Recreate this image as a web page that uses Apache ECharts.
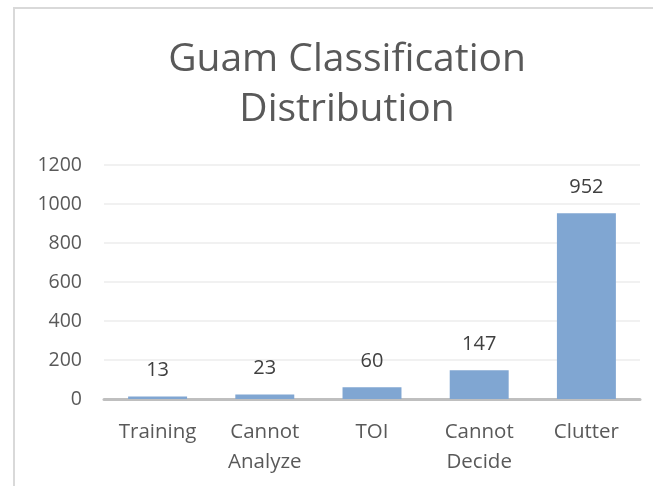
<!DOCTYPE html>
<html>
<head>
<meta charset="utf-8">
<script src="https://cdn.jsdelivr.net/npm/echarts@6/dist/echarts.min.js"></script>
<style>
  html, body { margin: 0; padding: 0; background: #fff; }
  #frame { position: absolute; left: 13px; top: 7px; width: 700px; height: 540px; border: 2px solid #d9d9d9; box-sizing: border-box; }
  #chart { position: absolute; left: 0; top: 0; width: 653px; height: 486px; }
</style>
</head>
<body>
<div id="frame"></div>
<div id="chart"></div>
<script>
    // 数据
    const categories = ['Training', 'Cannot\nAnalyze', 'TOI', 'Cannot\nDecide', 'Clutter'];
    const counts = [13, 23, 60, 147, 952];
    const yTicks = [0, 200, 400, 600, 800, 1000, 1200];

    const chart = echarts.init(document.getElementById('chart'));
    const font = 'Open Sans';
    chart.setOption({
        animation: false,
        title: {
            text: 'Guam Classification\nDistribution',
            left: 342,
            textAlign: 'center',
            top: 30,
            textStyle: {
                fontFamily: font,
                fontWeight: 'normal',
                fontSize: 39,
                lineHeight: 50,
                color: '#595959'
            }
        },
        grid: {
            left: 104,
            right: 13,
            top: 165,
            bottom: 87
        },
        xAxis: {
            type: 'category',
            data: categories,
            axisLine: { lineStyle: { color: '#bfbfbf', width: 3 } },
            axisTick: { show: false },
            axisLabel: {
                interval: 0,
                margin: 18,
                fontFamily: font,
                fontSize: 20.5,
                lineHeight: 30,
                color: '#595959'
            }
        },
        yAxis: {
            type: 'value',
            min: yTicks[0],
            max: yTicks[yTicks.length - 1],
            interval: 200,
            axisLine: { show: false },
            axisTick: { show: false },
            splitLine: { lineStyle: { color: '#ececec', width: 1.5 } },
            axisLabel: {
                margin: 22,
                fontFamily: font,
                fontSize: 19.5,
                color: '#595959',
                formatter: v => String(v)
            }
        },
        series: [{
            type: 'bar',
            data: counts,
            barWidth: '55%',
            itemStyle: { color: '#80a6d2' },
            label: {
                show: true,
                position: 'top',
                distance: 16,
                fontFamily: font,
                fontSize: 20,
                color: '#404040'
            }
        }]
    });
</script>
</body>
</html>
